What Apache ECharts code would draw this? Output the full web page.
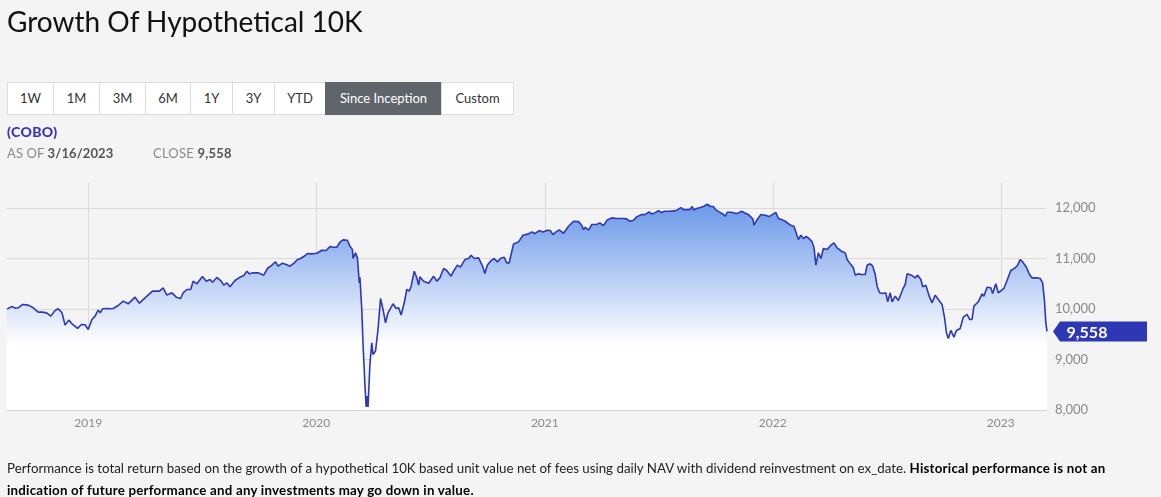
<!DOCTYPE html>
<html>
<head>
<meta charset="utf-8">
<script src="https://cdn.jsdelivr.net/npm/echarts@6/dist/echarts.min.js"></script>
<style>
  html, body { margin:0; padding:0; background:#f4f4f4; width:1161px; height:497px; overflow:hidden; font-family: Lato, "Open Sans", sans-serif; }
  #chart { position:absolute; left:0; top:0; width:1161px; height:497px; }
  .title { position:absolute; left:7px; top:4px; font-size:28px; font-weight:400; color:#111; letter-spacing:0px; }
  .btns { position:absolute; left:7px; top:82px; height:33px; display:flex; }
  .btns div { box-sizing:border-box; height:33px; line-height:31px; text-align:center; background:#fff; border:1px solid #dcdcdc; margin-left:-1px; font-size:13px; color:#333; }
  .btns div.on { background:#60656c; color:#fff; border-color:#60656c; }
  .ticker { position:absolute; left:7px; top:123px; font-size:14px; font-weight:900; color:#3b34b9; letter-spacing:0.4px; }
  .asof { position:absolute; left:7px; top:145px; font-size:13px; color:#8a8a8a; letter-spacing:0.1px; }
  .asof b { color:#555; }
  .close { position:absolute; left:153px; top:145px; font-size:13px; color:#8a8a8a; letter-spacing:0.2px; }
  .close b { color:#555; }
  .foot { position:absolute; left:7px; top:457px; font-size:13.3px; line-height:22px; color:#222; white-space:nowrap; }
  .foot b { color:#000; letter-spacing:0.23px; }
</style>
</head>
<body>
<div id="chart"></div>
<div class="title">Growth Of Hypothetical 10K</div>
<div class="btns">
  <div style="width:47px;margin-left:0">1W</div>
  <div style="width:47px">1M</div>
  <div style="width:47px">3M</div>
  <div style="width:46px">6M</div>
  <div style="width:43px">1Y</div>
  <div style="width:43px">3Y</div>
  <div style="width:52px">YTD</div>
  <div class="on" style="width:117px">Since Inception</div>
  <div style="width:73px">Custom</div>
</div>
<div class="ticker">(COBO)</div>
<div class="asof">AS OF <b>3/16/2023</b></div>
<div class="close">CLOSE <b>9,558</b></div>
<div class="foot">Performance is total return based on the growth of a hypothetical 10K based unit value net of fees using daily NAV with dividend reinvestment on ex_date. <b>Historical performance is not an</b><br><b>indication of future performance and any investments may go down in value.</b></div>
<script>
const dates = [
 '2018-08-24','2018-09-01','2018-09-06','2018-09-11','2018-09-18','2018-09-27','2018-10-05','2018-10-13','2018-10-20','2018-10-27',
 '2018-11-02','2018-11-09','2018-11-14','2018-11-20','2018-11-25','2018-12-01','2018-12-07','2018-12-15','2018-12-21','2018-12-27',
 '2019-01-01','2019-01-07','2019-01-12','2019-01-17','2019-01-20','2019-01-24','2019-01-31','2019-02-05','2019-02-10','2019-02-18',
 '2019-02-26','2019-03-06','2019-03-17','2019-03-24','2019-04-05','2019-04-14','2019-04-18','2019-04-25','2019-05-01','2019-05-07',
 '2019-05-15','2019-05-22','2019-05-29','2019-06-02','2019-06-08','2019-06-14','2019-06-18','2019-06-24','2019-07-03','2019-07-09',
 '2019-07-15','2019-07-19','2019-07-26','2019-08-02','2019-08-06','2019-08-11','2019-08-16','2019-08-24','2019-09-01','2019-09-07',
 '2019-09-12','2019-09-16','2019-09-22','2019-09-30','2019-10-09','2019-10-15','2019-10-22','2019-10-28','2019-11-01','2019-11-08',
 '2019-11-14','2019-11-20','2019-11-27','2019-12-02','2019-12-07','2019-12-12','2019-12-18','2019-12-25',
 '2020-01-02','2020-01-10','2020-01-17','2020-01-23','2020-01-28','2020-02-03','2020-02-08','2020-02-13','2020-02-20','2020-02-24',
 '2020-02-28','2020-02-29','2020-03-04','2020-03-07','2020-03-10','2020-03-11','2020-03-14','2020-03-16','2020-03-19','2020-03-21',
 '2020-03-23','2020-03-24','2020-03-27','2020-03-30','2020-04-01','2020-04-05','2020-04-09','2020-04-13','2020-04-17','2020-04-21',
 '2020-04-25','2020-05-03','2020-05-08','2020-05-12','2020-05-16','2020-05-21','2020-05-25','2020-05-29','2020-06-01','2020-06-06',
 '2020-06-10','2020-06-13','2020-06-15','2020-06-21','2020-06-29','2020-07-07','2020-07-12','2020-07-17','2020-07-23','2020-07-28',
 '2020-08-04','2020-08-08','2020-08-14','2020-08-19','2020-08-26','2020-09-01','2020-09-05','2020-09-10','2020-09-17','2020-09-20',
 '2020-09-24','2020-09-27','2020-10-01','2020-10-06','2020-10-12','2020-10-17','2020-10-22','2020-10-28','2020-11-01','2020-11-05',
 '2020-11-07','2020-11-12','2020-11-15','2020-11-20','2020-11-27','2020-12-06','2020-12-11','2020-12-16','2020-12-23','2020-12-29',
 '2021-01-05','2021-01-10','2021-01-14','2021-01-19','2021-01-24','2021-01-31','2021-02-08','2021-02-16','2021-02-24','2021-03-01',
 '2021-03-04','2021-03-07','2021-03-12','2021-03-17','2021-03-25','2021-03-30','2021-04-05','2021-04-11','2021-04-18','2021-04-26',
 '2021-05-07','2021-05-12','2021-05-17','2021-05-23','2021-05-28','2021-06-05','2021-06-10','2021-06-17','2021-06-21','2021-06-26',
 '2021-07-02','2021-07-07','2021-07-12','2021-07-20','2021-07-27','2021-08-01','2021-08-07','2021-08-11','2021-08-17','2021-08-21',
 '2021-08-25','2021-08-27','2021-09-01','2021-09-07','2021-09-13','2021-09-18','2021-09-23','2021-09-28','2021-10-02','2021-10-07',
 '2021-10-13','2021-10-17','2021-10-20','2021-10-27','2021-11-03','2021-11-07','2021-11-12','2021-11-18','2021-11-23','2021-11-26',
 '2021-11-30','2021-12-02','2021-12-06','2021-12-13','2021-12-20','2021-12-26',
 '2022-01-02','2022-01-06','2022-01-10','2022-01-15','2022-01-21','2022-01-26','2022-01-30','2022-02-04','2022-02-07','2022-02-11',
 '2022-02-15','2022-02-19','2022-02-23','2022-02-27','2022-03-05','2022-03-08','2022-03-11','2022-03-15','2022-03-19','2022-03-23',
 '2022-03-29','2022-04-05','2022-04-09','2022-04-14','2022-04-21','2022-04-27','2022-04-30','2022-05-05','2022-05-10','2022-05-13',
 '2022-05-18','2022-05-23','2022-05-29','2022-06-01','2022-06-06','2022-06-10','2022-06-14','2022-06-17','2022-06-21','2022-06-26',
 '2022-07-01','2022-07-04','2022-07-08','2022-07-11','2022-07-16','2022-07-21','2022-07-26','2022-07-29','2022-08-01','2022-08-04',
 '2022-08-11','2022-08-17','2022-08-21','2022-08-26','2022-08-29','2022-09-03','2022-09-09','2022-09-13','2022-09-18','2022-09-23',
 '2022-09-29','2022-10-03','2022-10-06','2022-10-09','2022-10-13','2022-10-18','2022-10-22','2022-10-28','2022-11-02','2022-11-08',
 '2022-11-12','2022-11-16','2022-11-19','2022-11-26','2022-12-02','2022-12-05','2022-12-10','2022-12-16','2022-12-19','2022-12-24',
 '2022-12-28',
 '2023-01-02','2023-01-06','2023-01-11','2023-01-17','2023-01-24','2023-01-28','2023-02-01','2023-02-05','2023-02-11','2023-02-16',
 '2023-02-20','2023-02-28','2023-03-05','2023-03-09','2023-03-12','2023-03-14','2023-03-16'
];
const values = [
 10000,10052,10020,10026,10092,10079,10026,9940,9940,9920,
 9861,9973,10006,9927,9683,9782,9696,9617,9696,9689,
 9597,9795,9861,9980,9927,10006,10013,10006,10013,10072,
 10158,10105,10237,10118,10257,10356,10356,10356,10422,10277,
 10323,10237,10211,10323,10389,10389,10554,10501,10646,10554,
 10587,10534,10627,10554,10475,10521,10442,10567,10633,10666,
 10752,10699,10719,10719,10673,10805,10871,10937,10851,10910,
 10884,10851,10917,10983,11003,11042,11102,11095,
 11108,11168,11161,11240,11227,11227,11326,11372,11366,11247,
 11181,11003,11115,11016,10521,10633,9993,9300,8508,8059,
 8277,8059,8904,9333,9102,9168,9597,10211,9993,9729,
 9927,10105,10013,10026,9881,10125,10389,10356,10455,10752,
 10620,10475,10640,10554,10514,10653,10554,10620,10805,10765,
 10653,10752,10871,10831,10983,11003,11069,11003,11016,10983,
 10831,10706,10871,10950,11003,10937,11003,11029,10917,10917,
 11029,11293,11267,11333,11465,11491,11531,11498,11557,11531,
 11564,11557,11478,11531,11570,11504,11643,11742,11735,11663,
 11577,11623,11564,11676,11676,11709,11656,11768,11808,11795,
 11795,11788,11742,11762,11828,11874,11874,11927,11887,11907,
 11953,11914,11940,11940,11947,11966,12013,11973,11973,11973,
 12032,11966,11993,12013,12039,12079,12039,12032,11966,11927,
 11887,11841,11920,11920,11894,11907,11940,11900,11874,11841,
 11788,11663,11755,11874,11861,11834,
 11887,11914,11795,11775,11742,11696,11663,11636,11643,11379,
 11465,11399,11438,11412,11333,11214,10871,11115,11003,11201,
 11181,11280,11313,11214,11148,11115,10983,10897,10818,10673,
 10699,10686,10686,10871,10897,10851,10686,10455,10323,10310,
 10323,10145,10323,10145,10257,10171,10323,10422,10488,10699,
 10673,10620,10673,10587,10442,10475,10237,10125,10277,10191,
 10092,9828,9531,9419,9577,9445,9577,9617,9841,9894,
 9795,9795,10059,10145,10303,10257,10435,10422,10310,10501,
 10323,
 10369,10409,10567,10765,10818,10871,10983,10937,10831,10686,
 10620,10620,10607,10521,10158,9749,9558
];
const yMin = 8000, yMax = 12500, yStep = 1000;

const fmt = v => Math.round(v).toLocaleString('en-US');
const data = dates.map((d, i) => [d, values[i]]);
const lastIdx = values.length - 1;

const chart = echarts.init(document.getElementById('chart'), null, { renderer: 'canvas' });
chart.setOption({
  animation: false,
  backgroundColor: '#f4f4f4',
  grid: { left: 7, right: 114, top: 183, bottom: 87, containLabel: false },
  xAxis: {
    type: 'time',
    min: dates[0],
    max: dates[lastIdx],
    splitNumber: 4,
    axisLine: { show: true, lineStyle: { color: '#d6d6d6', width: 1 } },
    axisTick: { show: false },
    axisLabel: { color: '#8a8a8a', fontSize: 12, margin: 7, formatter: '{yyyy}', showMinLabel: false, showMaxLabel: false, fontFamily: 'Lato, sans-serif' },
    splitLine: { show: true, showMinLine: false, showMaxLine: false, lineStyle: { color: '#dadada', width: 1 } }
  },
  yAxis: {
    type: 'value',
    position: 'right',
    min: yMin, max: yMax, interval: yStep,
    axisLine: { show: false },
    axisTick: { show: false },
    axisLabel: { color: '#8a8a8a', fontSize: 13, margin: 8, showMaxLabel: false, fontFamily: 'Lato, sans-serif',
      formatter: v => (v % yStep === 0 ? fmt(v) : '') },
    splitLine: { show: true, showMaxLine: false, lineStyle: { color: '#dadada', width: 1 } }
  },
  series: [{
    type: 'line',
    data: data,
    showSymbol: false,
    symbol: 'none',
    smooth: false,
    lineStyle: { color: '#2e38b4', width: 1.6 },
    itemStyle: { color: '#2e38b4' },
    areaStyle: {
      opacity: 1,
      color: new echarts.graphic.LinearGradient(0, 0, 0, 1, [
        { offset: 0, color: '#6a98e8' },
        { offset: 0.68, color: '#ffffff' },
        { offset: 1, color: '#ffffff' }
      ])
    },
    markPoint: {
      silent: true,
      symbol: 'path://M0,10L7,0L94,0L94,20L7,20Z',
      symbolSize: [94, 20],
      symbolOffset: [53, 0],
      symbolKeepAspect: false,
      itemStyle: { color: '#2e38b4' },
      label: { show: true, position: 'inside', offset: [-13, 1], color: '#fff', fontWeight: 'bold', fontSize: 16,
        fontFamily: 'Lato, sans-serif', formatter: p => fmt(p.value) },
      data: [{ coord: [dates[lastIdx], values[lastIdx]], value: values[lastIdx] }]
    }
  }]
});
</script>
</body>
</html>
